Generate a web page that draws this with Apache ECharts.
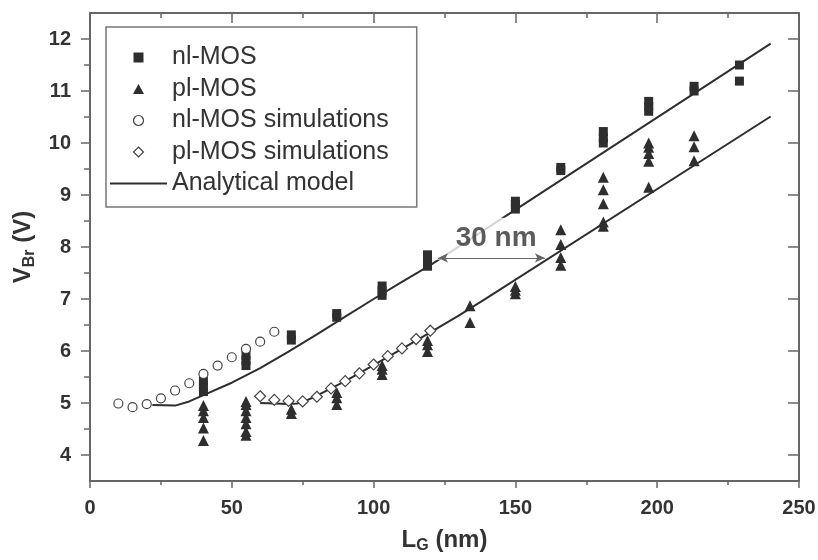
<!DOCTYPE html>
<html>
<head>
<meta charset="utf-8">
<title>VBr vs LG</title>
<script src="https://cdn.jsdelivr.net/npm/echarts@6/dist/echarts.min.js"></script>
<style>
  html, body { margin: 0; padding: 0; background: #fff; }
  #chart { width: 818px; height: 560px; }
</style>
</head>
<body>
<div id="chart"></div>
<script>
// measured devices: [L_G (nm), V_Br (V)]
const nlMos = [
  [40, 5.22], [40, 5.32], [40, 5.42],
  [55, 5.72], [55, 5.82], [55, 5.92],
  [71, 6.21], [71, 6.31],
  [87, 6.65], [87, 6.72],
  [103, 7.07], [103, 7.16], [103, 7.25],
  [119, 7.63], [119, 7.74], [119, 7.85],
  [150, 8.73], [150, 8.82], [150, 8.88],
  [166, 9.47], [166, 9.53],
  [181, 10.0], [181, 10.1], [181, 10.22],
  [197, 10.61], [197, 10.7], [197, 10.8],
  [213, 11.0], [213, 11.09],
  [229, 11.19], [229, 11.5]
];
const plMos = [
  [40, 4.28], [40, 4.52], [40, 4.72], [40, 4.85], [40, 4.95],
  [55, 4.38], [55, 4.45], [55, 4.6], [55, 4.72], [55, 4.85], [55, 4.97], [55, 5.03],
  [71, 4.8], [71, 4.88],
  [87, 4.97], [87, 5.1], [87, 5.2],
  [103, 5.55], [103, 5.65], [103, 5.72],
  [119, 5.99], [119, 6.12], [119, 6.2],
  [134, 6.55], [134, 6.87],
  [150, 7.1], [150, 7.17], [150, 7.24],
  [166, 7.65], [166, 7.8], [166, 8.05], [166, 8.33],
  [181, 8.4], [181, 8.48], [181, 8.83], [181, 9.1], [181, 9.34],
  [197, 9.15], [197, 9.65], [197, 9.8], [197, 9.92], [197, 10.0],
  [213, 9.66], [213, 9.93], [213, 10.14]
];

// simulations
const nlSimX = [10, 15, 20, 25, 30, 35, 40, 45, 50, 55, 60, 65];
const nlSimY = [4.99, 4.92, 4.98, 5.09, 5.24, 5.38, 5.56, 5.72, 5.88, 6.04, 6.18, 6.37];
const plSimX = [60, 65, 70, 75, 80, 85, 90, 95, 100, 105, 110, 115, 120];
const plSimY = [5.13, 5.06, 5.04, 5.03, 5.12, 5.28, 5.42, 5.57, 5.74, 5.90, 6.05, 6.23, 6.39];

// analytical model curves
const nlModel = [
  [22, 4.96], [30, 4.95], [35, 5.03], [40, 5.15], [50, 5.39], [60, 5.67], [70, 5.99],
  [80, 6.32], [90, 6.66], [100, 7.0], [110, 7.33], [120, 7.65], [240, 11.91]
];
const plModel = [
  [60, 5.0], [65, 4.99], [70, 4.98], [73, 4.99], [76, 5.04], [80, 5.14], [90, 5.42],
  [100, 5.73], [110, 6.04], [120, 6.36], [130, 6.68], [140, 7.02], [240, 10.51]
];

// ticks
const yMajor = [4, 5, 6, 7, 8, 9, 10, 11, 12];
const yMinor = [4.5, 5.5, 6.5, 7.5, 8.5, 9.5, 10.5, 11.5];

// "30 nm" annotation
const gapLabelAt = [141.1, 8.16];
const gapArrowFrom = [122.7, 7.79];
const gapArrowTo = [160.4, 7.79];

const FONT = '"Liberation Sans", Arial, sans-serif';
const AXIS = '#666';
const INK = '#2e2e2e';

// legend icons as paths so they keep their aspect inside the wide item box
const ICON_SQUARE = 'path://M0,0h9v9h-9z';
const ICON_TRIANGLE = 'path://M5.5,0L11,10L0,10z';
const ICON_CIRCLE = 'path://M0,4.5a4.5,4.5 0 1,0 9,0a4.5,4.5 0 1,0 -9,0z';
const ICON_DIAMOND = 'path://M5,0L10,5L5,10L0,5z';
const ICON_LINE = 'path://M0,0h57v2h-57z';

const zip = (xs, ys) => xs.map((x, i) => [x, ys[i]]);

const chart = echarts.init(document.getElementById('chart'));

const axisLine = { show: true, onZero: false, lineStyle: { color: AXIS, width: 2 } };
const tickStyle = { color: AXIS, width: 1.5 };
const nameStyle = {
  fontSize: 24, fontWeight: 'bold', color: '#333', fontFamily: FONT,
  rich: { sub: { fontSize: 16, fontWeight: 'bold', color: '#333', fontFamily: FONT, padding: [12, 0, 0, 0] } }
};

chart.setOption({
  animation: false,
  grid: { left: 90, right: 19, top: 13, bottom: 79, outerBoundsMode: 'none' },
  legend: {
    orient: 'vertical',
    left: 106,
    top: 27,
    itemWidth: 57,
    itemHeight: 10,
    itemGap: 6.5,
    padding: [18, 28, 11, 4],
    borderColor: '#777',
    borderWidth: 1.5,
    selectedMode: false,
    symbolKeepAspect: true,
    textStyle: { fontSize: 25, lineHeight: 24, color: '#333', fontFamily: FONT },
    data: [
      { name: 'nl-MOS', icon: ICON_SQUARE },
      { name: 'pl-MOS', icon: ICON_TRIANGLE },
      { name: 'nl-MOS simulations', icon: ICON_CIRCLE, itemStyle: { borderWidth: 1.2 } },
      { name: 'pl-MOS simulations', icon: ICON_DIAMOND, itemStyle: { borderWidth: 1.2 } },
      { name: 'Analytical model', icon: ICON_LINE, itemStyle: { color: INK, borderWidth: 0 } }
    ]
  },
  xAxis: [{
    type: 'value', position: 'bottom', min: 0, max: 250, interval: 50,
    axisLine: axisLine,
    axisTick: { inside: false, length: 7, lineStyle: tickStyle },
    minorTick: { show: true, splitNumber: 2, length: 4, lineStyle: tickStyle },
    splitLine: { show: false },
    axisLabel: { margin: 17, fontSize: 20, fontWeight: 'bold', color: '#333', fontFamily: FONT },
    name: 'L{sub|G} (nm)',
    nameLocation: 'middle',
    nameGap: 45,
    nameTextStyle: nameStyle
  }, {
    type: 'value', position: 'top', min: 0, max: 250, interval: 50,
    axisLine: axisLine,
    axisTick: { inside: true, length: 10, lineStyle: tickStyle },
    minorTick: { show: true, splitNumber: 2, length: 5, lineStyle: tickStyle },
    splitLine: { show: false },
    axisLabel: { show: false }
  }],
  yAxis: [{
    type: 'value', position: 'left', min: 3.5, max: 12.5,
    axisLine: axisLine,
    axisTick: { inside: false, length: 9, customValues: yMajor, lineStyle: tickStyle },
    axisLabel: { customValues: yMajor, margin: 19, fontSize: 20, fontWeight: 'bold', color: '#333', fontFamily: FONT },
    splitLine: { show: false },
    name: 'V{sub|Br} (V)',
    nameLocation: 'middle',
    nameGap: 44,
    nameTextStyle: nameStyle
  }, {
    type: 'value', position: 'left', min: 3.5, max: 12.5,
    axisLine: { show: false },
    axisTick: { inside: false, length: 4, customValues: yMinor, lineStyle: tickStyle },
    axisLabel: { show: false },
    splitLine: { show: false }
  }, {
    type: 'value', position: 'right', min: 3.5, max: 12.5,
    axisLine: axisLine,
    axisTick: { inside: true, length: 11, customValues: yMajor, lineStyle: tickStyle },
    axisLabel: { show: false },
    splitLine: { show: false }
  }, {
    type: 'value', position: 'right', min: 3.5, max: 12.5,
    axisLine: { show: false },
    axisTick: { inside: true, length: 6, customValues: yMinor, lineStyle: tickStyle },
    axisLabel: { show: false },
    splitLine: { show: false }
  }],
  series: [
    {
      name: 'Analytical model', type: 'line', data: nlModel, z: 2,
      showSymbol: false, symbol: 'none',
      lineStyle: { color: INK, width: 2 }, itemStyle: { color: INK }
    },
    {
      name: 'Analytical model', type: 'line', data: plModel, z: 2,
      showSymbol: false, symbol: 'none',
      lineStyle: { color: INK, width: 2 }, itemStyle: { color: INK }
    },
    {
      // white box label that covers the model line
      name: 'gap label', type: 'scatter', data: [gapLabelAt], z: 3,
      symbolSize: 1, itemStyle: { color: 'rgba(0,0,0,0)' }, silent: true,
      label: {
        show: true, position: 'inside', formatter: '30 nm',
        fontSize: 28, fontWeight: 'bold', color: '#333', fontFamily: FONT,
        lineHeight: 28, backgroundColor: '#fff', padding: [4, 8, 10, 20]
      }
    },
    {
      name: 'gap arrow', type: 'line', data: [], z: 4,
      markLine: {
        silent: true, animation: false,
        symbol: ['arrow', 'arrow'], symbolSize: [7, 10],
        label: { show: false },
        lineStyle: { color: '#666', width: 1, type: 'solid' },
        data: [[{ coord: gapArrowFrom }, { coord: gapArrowTo }]]
      }
    },
    {
      name: 'nl-MOS', type: 'scatter', data: nlMos, z: 5,
      symbol: 'rect', symbolSize: 9, itemStyle: { color: INK, opacity: 1 }
    },
    {
      name: 'pl-MOS', type: 'scatter', data: plMos, z: 5,
      symbol: 'triangle', symbolSize: 11, itemStyle: { color: INK, opacity: 1 }
    },
    {
      name: 'nl-MOS simulations', type: 'scatter', data: zip(nlSimX, nlSimY), z: 5,
      symbol: 'circle', symbolSize: 9,
      itemStyle: { color: '#fff', borderColor: '#444', borderWidth: 1.2, opacity: 1 }
    },
    {
      name: 'pl-MOS simulations', type: 'scatter', data: zip(plSimX, plSimY), z: 5,
      symbol: 'diamond', symbolSize: 11,
      itemStyle: { color: '#fff', borderColor: '#444', borderWidth: 1.2, opacity: 1 }
    }
  ]
});
</script>
</body>
</html>
